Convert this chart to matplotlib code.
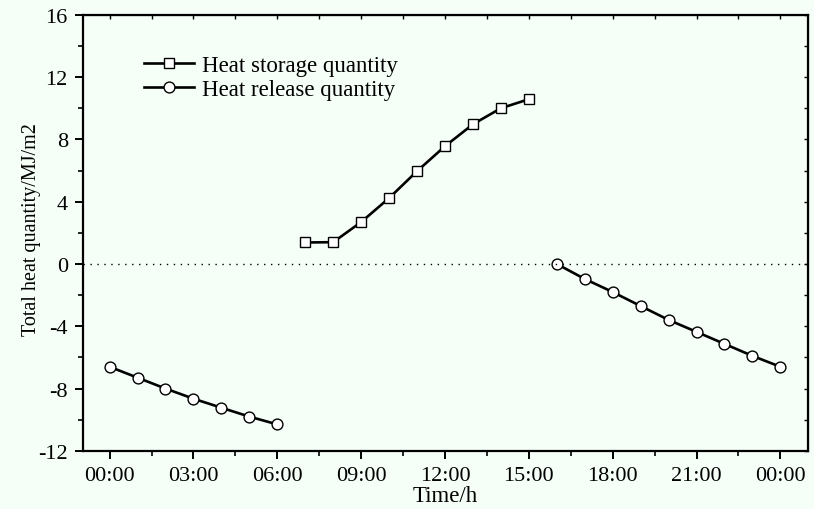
import matplotlib.pyplot as plt
import numpy as np
from matplotlib.ticker import MultipleLocator, FuncFormatter

plt.rcParams['font.family'] = ['Liberation Serif', 'DejaVu Serif']

# hours of day (24 = midnight of next day)
store_h = [7, 8, 9, 10, 11, 12, 13, 14, 15]
store_q = [1.38, 1.4, 2.69, 4.23, 5.96, 7.56, 8.97, 10.0, 10.58]

release_h1 = [0, 1, 2, 3, 4, 5, 6]
release_q1 = [-6.6, -7.3, -8.0, -8.65, -9.23, -9.8, -10.3]
release_h2 = [16, 17, 18, 19, 20, 21, 22, 23, 24]
release_q2 = [0.0, -0.96, -1.8, -2.7, -3.59, -4.36, -5.13, -5.9, -6.6]

bg = '#f5fff8'
fig = plt.figure(figsize=(8.14, 5.10), dpi=100, facecolor=bg)
ax = fig.add_axes([0.102, 0.114, 0.891, 0.855], facecolor=bg)

mk = dict(color='black', lw=1.9, markerfacecolor='white', markeredgecolor='black',
          markeredgewidth=1.0)
ax.plot(store_h, store_q, marker='s', markersize=7.2, label='Heat storage quantity', **mk)
ax.plot(release_h1, release_q1, marker='o', markersize=7.8, label='Heat release quantity', **mk)
ax.plot(release_h2, release_q2, marker='o', markersize=7.8, **mk)
ax.axhline(0, color='black', lw=1, ls=(0, (1, 4)))

ax.set_xlim(-0.95, 25.0)
ax.set_ylim(-12, 16)
ax.xaxis.set_major_locator(MultipleLocator(3))
ax.xaxis.set_minor_locator(MultipleLocator(1.5))
ax.yaxis.set_major_locator(MultipleLocator(4))
ax.yaxis.set_minor_locator(MultipleLocator(2))
ax.xaxis.set_major_formatter(FuncFormatter(lambda v, p: '%02d:00' % (int(round(v)) % 24)))
ax.yaxis.set_major_formatter(FuncFormatter(lambda v, p: '%d' % v))

for s in ax.spines.values():
    s.set_linewidth(1.6)
ax.tick_params(axis='both', which='major', direction='out', length=6, width=1.4,
               labelsize=16, pad=5)
ax.tick_params(axis='both', which='minor', direction='out', length=3.5, width=1.2)
ax.tick_params(top=False, right=False, which='both')

# small inward ticks on top/right
axt = ax.secondary_xaxis('top')
axt.xaxis.set_major_locator(MultipleLocator(1.5))
axt.tick_params(direction='in', length=3, width=1.0, labeltop=False)
axr = ax.secondary_yaxis('right')
axr.yaxis.set_major_locator(MultipleLocator(2))
axr.tick_params(direction='in', length=3, width=1.0, labelright=False)

ax.set_xlabel('Time/h', fontsize=16.5, labelpad=0)
ax.set_ylabel('Total heat quantity/MJ/m2', fontsize=14.5, labelpad=0)
ax.yaxis.set_label_coords(-0.058, 0.51)

ax.legend(loc='upper left', bbox_to_anchor=(0.055, 0.955), frameon=False, fontsize=16.5,
          handlelength=2.2, handletextpad=0.35, labelspacing=0.12)

fig.savefig('out.png', dpi=100, facecolor=bg)
